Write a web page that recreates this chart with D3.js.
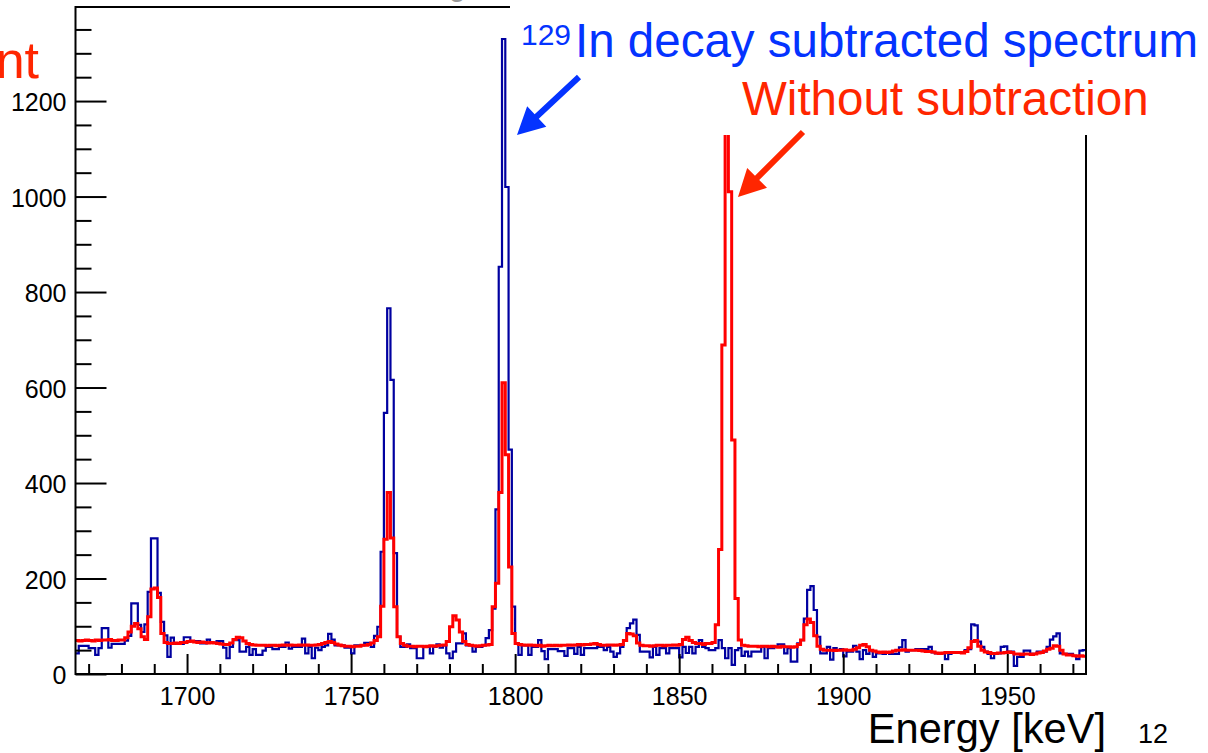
<!DOCTYPE html>
<html>
<head>
<meta charset="utf-8">
<script src="https://cdn.jsdelivr.net/npm/d3@7/dist/d3.min.js"></script>
<style>
  body { margin: 0; background: #fff; }
  svg { display: block; }
  text { font-family: "Liberation Sans", Arial, Helvetica, sans-serif; }
</style>
</head>
<body>
<div id="vis"></div>
<script>

// 1 keV bins, first bin starts at 1666 keV
var firstBin = 1666;
var binWidth = 1;

// 129In decay subtracted spectrum (blue)
var subtractedCounts = [
  43, 59, 59, 59, 54, 54, 40, 54, 96, 96,
  55, 63, 63, 63, 63, 70, 80, 148, 148, 103,
  88, 104, 172, 284, 284, 170, 109, 81, 36, 76,
  63, 63, 63, 77, 77, 69, 69, 69, 64, 64,
  72, 66, 66, 69, 69, 55, 33, 57, 71, 71,
  47, 47, 57, 40, 52, 40, 40, 49, 57, 57,
  52, 52, 57, 57, 66, 53, 57, 57, 57, 74,
  43, 57, 33, 55, 50, 57, 60, 84, 72, 60,
  60, 60, 55, 55, 43, 60, 60, 60, 65, 65,
  57, 80, 99, 256, 547, 766, 616, 253, 78, 57,
  57, 62, 54, 54, 33, 33, 57, 57, 43, 57,
  62, 55, 60, 43, 33, 47, 64, 64, 85, 60,
  60, 47, 57, 57, 60, 75, 92, 137, 345, 853,
  1330, 1020, 470, 141, 64, 40, 60, 60, 40, 57,
  57, 71, 48, 31, 52, 52, 52, 48, 48, 38,
  54, 54, 42, 57, 40, 54, 54, 54, 54, 57,
  57, 50, 57, 47, 36, 43, 57, 71, 96, 106,
  114, 82, 47, 47, 47, 35, 57, 40, 54, 54,
  43, 54, 54, 54, 35, 57, 44, 57, 43, 57,
  71, 57, 54, 50, 50, 54, 71, 54, 33, 54,
  19, 50, 54, 38, 47, 37, 47, 47, 47, 57,
  33, 54, 54, 57, 62, 62, 43, 54, 26, 26,
  64, 71, 116, 176, 184, 134, 78, 43, 43, 57,
  30, 54, 50, 52, 37, 47, 47, 59, 47, 31,
  50, 42, 50, 36, 43, 43, 42, 44, 42, 42,
  42, 56, 71, 47, 50, 50, 52, 52, 52, 52,
  57, 45, 43, 43, 43, 31, 42, 45, 45, 45,
  45, 50, 52, 104, 102, 68, 57, 47, 42, 33,
  43, 43, 57, 58, 47, 47, 17, 36, 36, 49,
  49, 42, 42, 47, 47, 47, 57, 72, 79, 85,
  43, 42, 42, 42, 38, 31, 49, 50
];

// without subtraction (red)
var rawCounts = [
  70, 69, 70, 71, 70, 69, 71, 70, 71, 71,
  72, 70, 70, 71, 71, 76, 88, 100, 106, 95,
  78, 72, 120, 178, 180, 160, 85, 66, 64, 64,
  65, 64, 66, 66, 68, 69, 67, 66, 67, 66,
  65, 66, 65, 64, 63, 62, 62, 65, 72, 77,
  76, 69, 64, 62, 61, 60, 60, 60, 59, 60,
  60, 59, 60, 61, 60, 61, 60, 60, 61, 60,
  61, 60, 60, 61, 62, 64, 66, 68, 66, 63,
  61, 59, 58, 58, 57, 58, 58, 60, 60, 62,
  65, 70, 78, 142, 282, 380, 285, 141, 78, 64,
  60, 58, 58, 57, 58, 58, 57, 58, 59, 58,
  59, 60, 61, 68, 99, 122, 113, 88, 68, 62,
  60, 59, 58, 59, 60, 61, 62, 141, 190, 380,
  610, 459, 224, 85, 64, 62, 61, 60, 61, 60,
  59, 60, 58, 59, 60, 59, 60, 59, 60, 60,
  61, 60, 61, 62, 61, 62, 62, 63, 64, 62,
  60, 60, 61, 61, 60, 61, 62, 70, 85, 84,
  80, 65, 60, 59, 59, 58, 59, 60, 60, 59,
  60, 60, 61, 60, 62, 72, 77, 70, 66, 64,
  64, 62, 64, 64, 66, 103, 261, 689, 1650, 1010,
  490, 158, 71, 60, 59, 58, 58, 58, 57, 58,
  58, 57, 58, 57, 56, 58, 57, 57, 56, 57,
  62, 71, 103, 115, 108, 80, 58, 52, 50, 50,
  50, 49, 50, 50, 51, 50, 50, 52, 55, 60,
  62, 57, 50, 48, 46, 45, 46, 45, 46, 48,
  50, 50, 51, 50, 50, 50, 50, 49, 48, 47,
  47, 46, 44, 43, 44, 45, 45, 45, 45, 45,
  44, 47, 55, 68, 70, 58, 50, 46, 45, 43,
  43, 44, 44, 45, 46, 45, 42, 42, 41, 42,
  42, 41, 42, 44, 45, 48, 52, 54, 59, 58,
  50, 42, 40, 40, 38, 37, 38, 37
];

var xDomain = [1666, 1974];
var yDomain = [0, 1397];
var xMajorTicks = [1700, 1750, 1800, 1850, 1900, 1950];
var yMajorTicks = [0, 200, 400, 600, 800, 1000, 1200];

var width = 1208;
var height = 753;
var frame = { left: 75.5, right: 1086, top: 7, bottom: 674 };

var blueHist = '#0000a0';
var redHist = '#ff0000';
var blueNote = '#0433ff';
var redNote = '#ff2600';

var svg = d3.select('#vis').append('svg')
  .attr('width', width)
  .attr('height', height);

var x = d3.scaleLinear().domain(xDomain).range([frame.left, frame.right]);
var y = d3.scaleLinear().domain(yDomain).range([frame.bottom, frame.top]);

svg.append('defs').append('clipPath').attr('id', 'plotClip')
  .append('rect')
  .attr('x', frame.left)
  .attr('y', frame.top)
  .attr('width', frame.right - frame.left)
  .attr('height', frame.bottom - frame.top);

function toSteps(counts) {
  var pts = counts.map(function(c, i) {
    return { e: firstBin + i * binWidth, c: c };
  });
  pts.push({ e: firstBin + counts.length * binWidth, c: counts[counts.length - 1] });
  return pts;
}

var stepLine = d3.line()
  .curve(d3.curveStepAfter)
  .x(function(d) { return x(d.e); })
  .y(function(d) { return y(Math.min(d.c, yDomain[1] + 20)); });

var hists = svg.append('g').attr('clip-path', 'url(#plotClip)');

hists.append('path')
  .datum(toSteps(subtractedCounts))
  .attr('d', stepLine)
  .attr('fill', 'none')
  .attr('stroke', blueHist)
  .attr('stroke-width', 2.2);

hists.append('path')
  .datum(toSteps(rawCounts))
  .attr('d', stepLine)
  .attr('fill', 'none')
  .attr('stroke', redHist)
  .attr('stroke-width', 3);

// axes, ticks drawn inward like ROOT
var xMinor = d3.range(1670, 1974, 10).filter(function(v) { return v % 50 !== 0; });
var yMinor = d3.range(0, 1397, 50).filter(function(v) { return v % 200 !== 0; });

var xAxisMinor = svg.append('g')
  .attr('transform', 'translate(0,' + frame.bottom + ')')
  .call(d3.axisBottom(x).tickValues(xMinor).tickSize(-10).tickFormat(''));

var xAxis = svg.append('g')
  .attr('transform', 'translate(0,' + frame.bottom + ')')
  .call(d3.axisBottom(x).tickValues(xMajorTicks).tickSize(-20).tickPadding(13).tickFormat(d3.format('d')));

var yAxisMinor = svg.append('g')
  .attr('transform', 'translate(' + frame.left + ',0)')
  .call(d3.axisLeft(y).tickValues(yMinor).tickSize(-16).tickFormat(''));

var yAxis = svg.append('g')
  .attr('transform', 'translate(' + frame.left + ',0)')
  .call(d3.axisLeft(y).tickValues(yMajorTicks).tickSize(-31).tickPadding(9).tickFormat(d3.format('d')));

[xAxisMinor, xAxis, yAxisMinor, yAxis].forEach(function(g) {
  g.select('.domain').remove();
  g.selectAll('line').attr('stroke', '#000').attr('stroke-width', 2);
});

xAxis.selectAll('text').attr('font-size', 25).attr('fill', '#000')
  .style('font-family', '"Liberation Sans", Arial, sans-serif');
yAxis.selectAll('text').attr('font-size', 25).attr('fill', '#000')
  .attr('dy', '0.38em')
  .style('font-family', '"Liberation Sans", Arial, sans-serif');

svg.append('rect')
  .attr('x', frame.left)
  .attr('y', frame.top)
  .attr('width', frame.right - frame.left)
  .attr('height', frame.bottom - frame.top)
  .attr('fill', 'none')
  .attr('stroke', '#000')
  .attr('stroke-width', 2);

// white box of the slide annotation covers the top right corner
svg.append('rect')
  .attr('x', 510)
  .attr('y', 0)
  .attr('width', width - 510)
  .attr('height', 135)
  .attr('fill', '#fff');

// tail of the cut title
svg.append('text')
  .attr('x', 449)
  .attr('y', -4)
  .attr('font-size', 30)
  .attr('fill', '#999')
  .text('g');

svg.append('text')
  .attr('x', 39)
  .attr('y', 78)
  .attr('text-anchor', 'end')
  .attr('font-size', 52)
  .attr('fill', redNote)
  .text('Count');

svg.append('text')
  .attr('x', 1106)
  .attr('y', 743)
  .attr('text-anchor', 'end')
  .attr('font-size', 41.6)
  .attr('fill', '#000')
  .text('Energy [keV]');

svg.append('text')
  .attr('x', 1138)
  .attr('y', 743)
  .attr('font-size', 27)
  .attr('fill', '#000')
  .text('12');

svg.append('text')
  .attr('x', 521)
  .attr('y', 45)
  .attr('font-size', 30)
  .attr('fill', blueNote)
  .text('129');

svg.append('text')
  .attr('x', 575)
  .attr('y', 57)
  .attr('font-size', 47.5)
  .attr('fill', blueNote)
  .text('In decay subtracted spectrum');

svg.append('text')
  .attr('x', 742)
  .attr('y', 115)
  .attr('font-size', 47.5)
  .attr('fill', redNote)
  .text('Without subtraction');

function arrow(x1, y1, x2, y2, color) {
  var dx = x2 - x1, dy = y2 - y1;
  var len = Math.sqrt(dx * dx + dy * dy);
  var ux = dx / len, uy = dy / len;
  var px = -uy, py = ux;
  var headLen = 27, headHalf = 14, shaft = 3;
  var bx = x2 - ux * headLen, by = y2 - uy * headLen;
  var pts = [
    [x1 + px * shaft, y1 + py * shaft],
    [bx + px * shaft, by + py * shaft],
    [bx + px * headHalf, by + py * headHalf],
    [x2, y2],
    [bx - px * headHalf, by - py * headHalf],
    [bx - px * shaft, by - py * shaft],
    [x1 - px * shaft, y1 - py * shaft]
  ];
  svg.append('path')
    .attr('d', 'M' + pts.join('L') + 'Z')
    .attr('fill', color);
}

arrow(579, 77, 517, 135, blueNote);
arrow(803, 132, 738, 197, redNote);

</script>
</body>
</html>
